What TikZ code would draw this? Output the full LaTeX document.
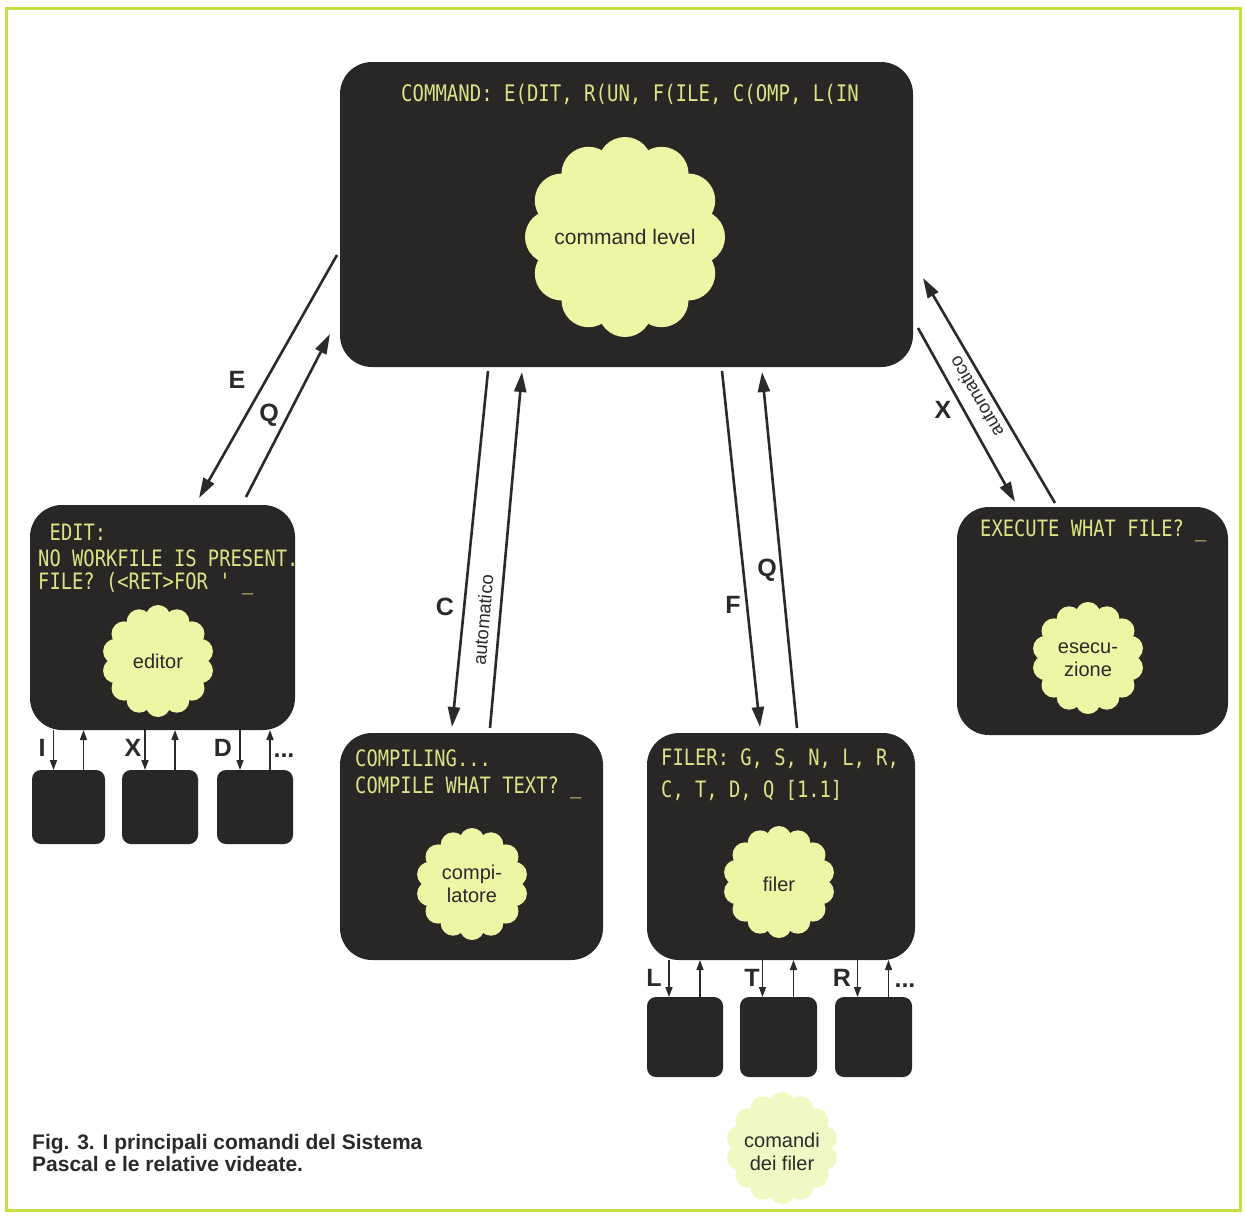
\documentclass[tikz,border=0pt]{standalone}
\usepackage{fontspec}
\setmainfont{Liberation Sans}
\newfontfamily\scrfont{DejaVu Sans Mono}
\usetikzlibrary{arrows.meta,calc}
\definecolor{scr}{RGB}{40,39,37}
\definecolor{scrtxt}{RGB}{220,228,135}
\definecolor{petal}{RGB}{236,246,164}
\definecolor{petallight}{RGB}{241,248,196}
\definecolor{ink}{RGB}{42,42,42}
\definecolor{framecol}{RGB}{198,222,62}

% scalloped "flower" blob: centre x, centre y, ring radius, lobe radius, lobes, colour
\newcommand\flowerblob[6]{%
  \fill[#6] (#1,#2) circle[radius=#3pt];
  \foreach \k in {1,...,#5}{%
    \fill[#6] ($(#1,#2)+({360/#5*\k+90}:#3pt)$) circle[radius=#4pt];
  }%
}

\begin{document}
\begin{tikzpicture}[x=1pt,y=-1pt,
  screen/.style={fill=scr, rounded corners=32pt, inner sep=0pt, outer sep=0pt},
  minibox/.style={fill=scr, rounded corners=9pt, inner sep=0pt, outer sep=0pt},
  scrtext/.style={text=scrtxt, font=\scrfont\fontsize{18.8}{20}\selectfont,
    anchor=west, inner sep=0pt, yscale=1.2},
  blobtext/.style={text=ink, font=\fontsize{20}{23}\selectfont, align=center, inner sep=0pt},
  lbl/.style={text=ink, font=\bfseries\fontsize{25}{28}\selectfont, inner sep=0pt},
  autotxt/.style={text=ink, font=\fontsize{18.5}{20}\selectfont, inner sep=0pt},
  bigarr/.style={draw=ink, line width=2.6pt, -{Triangle[length=20pt,width=12pt]}},
  smallarr/.style={draw=ink, line width=1.6pt, -{Triangle[length=10pt,width=7pt]}},
  captxt/.style={text=ink, font=\bfseries\fontsize{21}{22}\selectfont, anchor=base west, inner sep=0pt}
]
\path[use as bounding box] (0,0) rectangle (1245,1216);
\fill[white] (0,0) rectangle (1245,1216);
\draw[framecol, line width=3pt] (6,8) rectangle (1240,1210);

% ---- screens ----
\node[screen, minimum width=573pt, minimum height=305pt] (main) at (626.5,214.5) {};
\node[screen, minimum width=265pt, minimum height=225pt] (ed) at (162.5,617.5) {};
\node[screen, minimum width=263pt, minimum height=227pt] (comp) at (471.5,846.5) {};
\node[screen, minimum width=268pt, minimum height=227pt] (fil) at (781,846.5) {};
\node[screen, minimum width=271pt, minimum height=228pt] (exe) at (1092.5,621) {};

% ---- small screens below editor and filer ----
\node[minibox, minimum width=73pt, minimum height=74pt] (eb1) at (68.5,807) {};
\node[minibox, minimum width=76pt, minimum height=74pt] (eb2) at (160,807) {};
\node[minibox, minimum width=76pt, minimum height=74pt] (eb3) at (255,807) {};
\node[minibox, minimum width=76pt, minimum height=80pt] (fb1) at (685,1037) {};
\node[minibox, minimum width=77pt, minimum height=80pt] (fb2) at (778.5,1037) {};
\node[minibox, minimum width=77pt, minimum height=80pt] (fb3) at (873.5,1037) {};

% ---- screen texts ----
\node[scrtext, font=\scrfont\fontsize{19}{20}\selectfont] (tmain) at (401,94) {COMMAND: E(DIT, R(UN, F(ILE, C(OMP, L(IN};
\node[scrtext] (ted1) at (49.5,532) {EDIT:};
\node[scrtext] (ted2) at (38,558) {NO WORKFILE IS PRESENT.};
\node[scrtext] (ted3) at (38,584) {FILE? (<RET>FOR ' \_};
\node[scrtext] (tco1) at (355,758) {COMPILING...};
\node[scrtext] (tco2) at (355,788) {COMPILE WHAT TEXT? \_};
\node[scrtext] (tfi1) at (661,759) {FILER: G, S, N, L, R,};
\node[scrtext] (tfi2) at (661,790) {C, T, D, Q [1.1]};
\node[scrtext] (tex1) at (980,531) {EXECUTE WHAT FILE? \_};

% ---- flower blobs ----
\flowerblob{625}{237}{73}{27}{12}{petal}
\flowerblob{158}{661}{43.5}{12.5}{14}{petal}
\flowerblob{472}{884}{43.5}{12.5}{14}{petal}
\flowerblob{779}{882}{43.5}{12.5}{14}{petal}
\flowerblob{1088}{658}{43.5}{12.5}{14}{petal}
\flowerblob{782}{1148}{43.5}{12.5}{14}{petallight}

\node[blobtext, font=\fontsize{21}{23}\selectfont] (cmain) at (625,237) {command level};
\node[blobtext] (ced) at (158,661) {editor};
\node[blobtext] (cco) at (472,884) {compi-\\latore};
\node[blobtext] (cfi) at (779,884) {filer};
\node[blobtext] (cex) at (1088,660) {esecu-\\zione};
\node[blobtext] (cfc) at (782,1152) {comandi\\dei filer};

% ---- main connectors ----
\coordinate (eA) at (337,255);  \coordinate (eB) at (199,498);
\coordinate (qA) at (246,497);  \coordinate (qB) at (330,334);
\coordinate (cA) at (488,371);  \coordinate (cB) at (452,727);
\coordinate (caA) at (490,728); \coordinate (caB) at (522,372);
\coordinate (fA) at (722,371);  \coordinate (fB) at (760,727);
\coordinate (fqA) at (797,728); \coordinate (fqB) at (762,372);
\coordinate (xA) at (918,328);  \coordinate (xB) at (1015,502);
\coordinate (xaA) at (1055,503); \coordinate (xaB) at (923,278);

\draw[bigarr] (eA) -- (eB);
\draw[bigarr] (qA) -- (qB);
\draw[bigarr] (cA) -- (cB);
\draw[bigarr] (caA) -- (caB);
\draw[bigarr] (fA) -- (fB);
\draw[bigarr] (fqA) -- (fqB);
\draw[bigarr] (xA) -- (xB);
\draw[bigarr] (xaA) -- (xaB);

\node[lbl] (lE) at (237,380) {E};
\node[lbl] (lQ1) at (269,415) {Q};
\node[lbl] (lC) at (445,607) {C};
\node[autotxt, rotate=85] (autoC) at (483,620) {automatico};
\node[lbl] (lF) at (733,605) {F};
\node[lbl] (lQ2) at (767,570) {Q};
\node[lbl] (lX) at (943,410) {X};
\node[autotxt, rotate=120] (autoX) at (976,397) {automatico};

% ---- editor sub-commands ----
\foreach \b in {eb1,eb2,eb3}{
  \draw[smallarr] ([xshift=-15pt]\b.north |- ed.south) -- ([xshift=-15pt]\b.north);
  \draw[smallarr] ([xshift=15pt]\b.north) -- ([xshift=15pt]\b.north |- ed.south);
}
\node[lbl] (lI) at (42,748) {I};
\node[lbl] (lXe) at (133,748) {X};
\node[lbl] (lD) at (223,748) {D};
\node[lbl, anchor=base] (ldots1) at (284,757) {...};

% ---- filer sub-commands ----
\foreach \b in {fb1,fb2,fb3}{
  \draw[smallarr] ([xshift=-16pt]\b.north |- fil.south) -- ([xshift=-16pt]\b.north);
  \draw[smallarr] ([xshift=15pt]\b.north) -- ([xshift=15pt]\b.north |- fil.south);
}
\node[lbl] (lL) at (654,978) {L};
\node[lbl] (lT) at (752,978) {T};
\node[lbl] (lR) at (842,978) {R};
\node[lbl, anchor=base] (ldots2) at (905,987) {...};

% ---- caption ----
\node[captxt] (cap1) at (32,1149) {Fig. 3. I principali comandi del Sistema};
\node[captxt] (cap2) at (32,1171) {Pascal e le relative videate.};
\end{tikzpicture}
\end{document}
